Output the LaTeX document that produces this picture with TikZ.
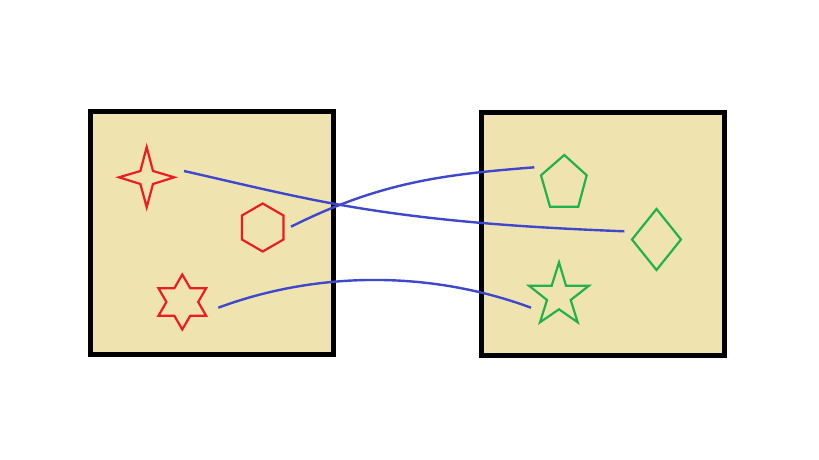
\documentclass[tikz,border=0pt]{standalone}
\begin{document}
\begin{tikzpicture}[x=1pt,y=-1pt,
  panel/.style={draw=black,line width=4.5pt,fill=tan},
  redshape/.style={draw=pred,line width=2.2pt,line join=miter},
  greenshape/.style={draw=pgreen,line width=2.2pt,line join=miter},
  link/.style={draw=pblue,line width=2.4pt}]
\definecolor{tan}{HTML}{EFE4B0}
\definecolor{pred}{HTML}{ED1C24}
\definecolor{pgreen}{HTML}{22B14C}
\definecolor{pblue}{HTML}{3F48CC}
\useasboundingbox (0,0) rectangle (819,460);
\fill[white] (0,0) rectangle (819,460);
% panels
\draw[panel] (90.5,111.5) rectangle (333.5,354.5);
\draw[panel] (481.5,112.5) rectangle (724.5,355.5);
% red shapes
\draw[redshape] (146.7,147) -- (153,171) -- (174.3,177.3) -- (153,184) -- (146.7,207.3) -- (140.4,184) -- (119,177.3) -- (140.4,171) -- cycle;
\draw[redshape] (262.7,227.5) ++(90:24) -- ++(-30:24) -- ++(-90:24) -- ++(-150:24) -- ++(150:24) -- ++(90:24) -- cycle;
\draw[redshape] (182.3,302)
  +(90:27.5) -- +(60:15.9) -- +(30:27.5) -- +(0:15.9) -- +(-30:27.5) -- +(-60:15.9)
  -- +(-90:27.5) -- +(-120:15.9) -- +(-150:27.5) -- +(180:15.9) -- +(150:27.5) -- +(120:15.9) -- cycle;
% green shapes
\draw[greenshape] (564.3,155) -- (586.7,175.3) -- (578.3,206.7) -- (550,206.7) -- (541,175.3) -- cycle;
\draw[greenshape] (656.5,209) -- (681,239.5) -- (656.5,270) -- (632,239.5) -- cycle;
\draw[greenshape] (559,262.3) -- (566,285.7) -- (589,285.7) -- (570.7,300) -- (577.7,322.3) -- (559,309.3) -- (540,322.3) -- (547,300) -- (529,285.7) -- (551.7,285.7) -- cycle;
% connector ends
\coordinate (a1) at (184,171);
\coordinate (am) at (337,204.3);
\coordinate (a2) at (624.3,231.3);
\coordinate (b1) at (291,226.7);
\coordinate (b2) at (534.3,167.3);
\coordinate (c1) at (218.3,307.7);
\coordinate (c2) at (531,307.7);
% connectors
\draw[link] (a1) .. controls (235,182.5) and (286,195.1) .. (am)
  .. controls (433,221.6) and (528,227.5) .. (a2);
\draw[link] (b1) .. controls (381,181.7) and (444.3,174.5) .. (b2);
\draw[link] (c1) .. controls (318,270.7) and (431,270.7) .. (c2);
\end{tikzpicture}
\end{document}
